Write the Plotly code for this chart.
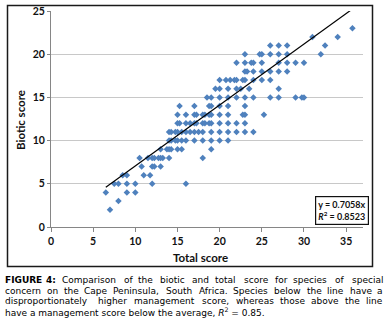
import math
import plotly.graph_objects as go

# Read-off data: biotic score rows and their total scores
total_score = [
    7,
    8,
    6.5, 9, 10,
    7.5, 8, 9, 10, 12, 16,
    8.5, 9, 11, 11.75,
    10.75, 12, 12.25, 13,
    10.5, 11.5, 12, 12.25, 12.75, 13, 13.25, 14, 18,
    13, 13.75, 14, 14.25, 15, 15.5, 19,
    14, 14.25, 14.75, 15, 15.5, 16, 17, 18, 19, 20, 21,
    14, 14.25, 14.75, 15, 15.5, 16, 16.5, 17, 17.5, 18, 19, 20, 21, 22, 23, 24,
    15, 15.25, 16, 16.5, 17, 17.25, 18, 18.25, 18.75, 19, 20, 21, 22, 23,
    15, 16, 17, 17.25, 18, 18.25, 18.75, 19, 20, 21, 22.75, 23, 25.25,
    15.25, 17, 18.75, 19, 20, 21, 23,
    18.5, 19, 20, 21, 22, 23, 24, 26, 27, 29, 29.75, 30,
    19.5, 20, 21, 22, 22.5, 23.5, 27,
    20, 20.75, 21.25, 21.75, 22, 22.75, 23, 24, 25, 26,
    23, 23.25, 24, 25, 26, 27, 28,
    22, 23, 23.75, 24, 25, 27, 28, 29, 30,
    23, 24.75, 25, 26, 27, 28, 32,
    26, 27, 28, 32.5,
    31, 34,
    35.75,
]
biotic_score = (
    [2] * 1 + [3] * 1 + [4] * 3 + [5] * 6 + [6] * 4 + [7] * 4 + [8] * 9 + [9] * 7
    + [10] * 11 + [11] * 16 + [12] * 14 + [13] * 13 + [14] * 7 + [15] * 12
    + [16] * 7 + [17] * 10 + [18] * 7 + [19] * 9 + [20] * 7 + [21] * 4 + [22] * 2 + [23] * 1
)
slope = 0.7058
r_squared = 0.8523
x_ticks = [0, 5, 10, 15, 20, 25, 30, 35]
y_ticks = [0, 5, 10, 15, 20, 25]

caption_lines = [
    "FIGURE 4: Comparison of the biotic and total score for species of special",
    "concern on the Cape Peninsula, South Africa. Species below the line have a",
    "disproportionately higher management score, whereas those above the line",
    "have a management score below the average, R² = 0.85.",
]

x_lo, x_hi = min(total_score), max(total_score)

fig = go.Figure()
fig.add_trace(go.Scatter(
    x=total_score, y=biotic_score, mode="markers",
    marker=dict(symbol="diamond", size=5, color="#4F81BD"),
    showlegend=False, hoverinfo="skip",
))
fig.add_trace(go.Scatter(
    x=[x_lo, x_hi], y=[slope * x_lo, slope * x_hi], mode="lines",
    line=dict(color="black", width=1.2), showlegend=False, hoverinfo="skip",
))

W, H = 387, 328
L, R, T, B = 51, 24, 11, 101
pw, ph = W - L - R, H - T - B

def px(xp):
    return (xp - L) / pw

def py(yp):
    return (H - B - yp) / ph

tickfont = dict(family="Lato", size=10.5, color="#111", weight="bold")
fig.update_layout(
    width=W, height=H, margin=dict(l=L, r=R, t=T, b=B, autoexpand=False),
    paper_bgcolor="white", plot_bgcolor="white",
    xaxis=dict(range=[0, 37], tickvals=x_ticks, showgrid=False, zeroline=False,
               showline=True, linecolor="#868686", linewidth=1,
               ticks="outside", ticklen=4, tickcolor="#868686",
               tickfont=tickfont, fixedrange=True, automargin=False),
    yaxis=dict(range=[0, 25], tickvals=y_ticks, showgrid=True, gridcolor="#C8C8C8",
               gridwidth=1, zeroline=False, showline=True, linecolor="#868686",
               linewidth=1, ticks="outside", ticklen=3, tickcolor="#868686",
               tickfont=tickfont, fixedrange=True, automargin=False),
)

# outer chart border
fig.add_shape(type="rect", xref="paper", yref="paper",
              x0=px(7.5), x1=px(372.5), y0=py(266.5), y1=py(5.5),
              line=dict(color="#1a1a1a", width=1.5), fillcolor="rgba(0,0,0,0)", layer="above")

# axis titles
fig.add_annotation(text="<b>Total score</b>", xref="paper", yref="paper",
                   x=px(200), y=py(257), showarrow=False,
                   font=dict(family="Lato", size=11.5, color="#111"),
                   xanchor="center", yanchor="middle")
fig.add_annotation(text="<b>Biotic score</b>", xref="paper", yref="paper",
                   x=px(20), y=py(120), showarrow=False, textangle=-90,
                   font=dict(family="Lato", size=11.5, color="#111"),
                   xanchor="center", yanchor="middle")

# equation box
fig.add_annotation(
    text=f"<b>y = {slope}x</b><br><b><i>R</i><sup>2</sup> = {r_squared}</b>",
    xref="paper", yref="paper", x=px(341.5), y=py(210), showarrow=False,
    font=dict(family="Lato", size=9, color="#111"), align="center",
    bgcolor="white", bordercolor="#111", borderwidth=1.2, borderpad=2,
    xanchor="center", yanchor="middle",
)

# caption: justified by placing each word (DejaVu Sans advance widths, em units)
REG = {" ": .318, "a": .613, "b": .635, "c": .550, "d": .635, "e": .615, "f": .352,
       "g": .635, "h": .634, "i": .278, "j": .278, "k": .579, "l": .278, "m": .974,
       "n": .634, "o": .612, "p": .635, "q": .635, "r": .411, "s": .521, "t": .392,
       "u": .634, "v": .592, "w": .818, "x": .592, "y": .592, "z": .525, "A": .684,
       "C": .698, "P": .603, "R": .695, "S": .635, ".": .318, ",": .318, "=": .838,
       "²": .401, "0": .636, "8": .636, "5": .636}
BOLD = {"F": .683, "I": .372, "G": .821, "U": .812, "R": .770, "E": .683, "4": .696,
        ":": .400}
FS = 9.0
left, right = 5.0, 383.0
capfont = dict(family="DejaVu Sans", size=FS, color="#000")

def wwidth(word, bold=False):
    tab = BOLD if bold else REG
    return sum(math.floor(tab.get(ch, .62) * FS + 0.5) for ch in word)

for i, line in enumerate(caption_lines):
    yline = py(280 + i * 10.6)
    if i == len(caption_lines) - 1:
        fig.add_annotation(text=line.replace("R²", "<i>R</i><sup>2</sup>"),
                           xref="paper", yref="paper", x=px(left), y=yline,
                           showarrow=False, font=capfont, xanchor="left",
                           yanchor="middle", align="left", borderpad=0, borderwidth=0)
        continue
    words = line.split(" ")
    bolds = [(i == 0 and k < 2) for k in range(len(words))]
    widths = [wwidth(w, b) for w, b in zip(words, bolds)]
    gap = (right - left - sum(widths)) / (len(words) - 1)
    xcur = left
    n = len(words)
    for k, (w, b, wd) in enumerate(zip(words, bolds, widths)):
        txt = f"<b>{w}</b>" if b else w
        if k == n - 1:
            xa, xpos = "right", right
        else:
            xa, xpos = "left", xcur
        fig.add_annotation(text=txt, xref="paper", yref="paper",
                           x=px(xpos), y=yline, showarrow=False, font=capfont,
                           xanchor=xa, yanchor="middle", align="left",
                           borderpad=0, borderwidth=0)
        xcur += wd + gap

fig.write_html("out.html", config={"displayModeBar": False, "staticPlot": True},
               post_script="document.body.style.margin='0';document.body.style.overflow='hidden';")
